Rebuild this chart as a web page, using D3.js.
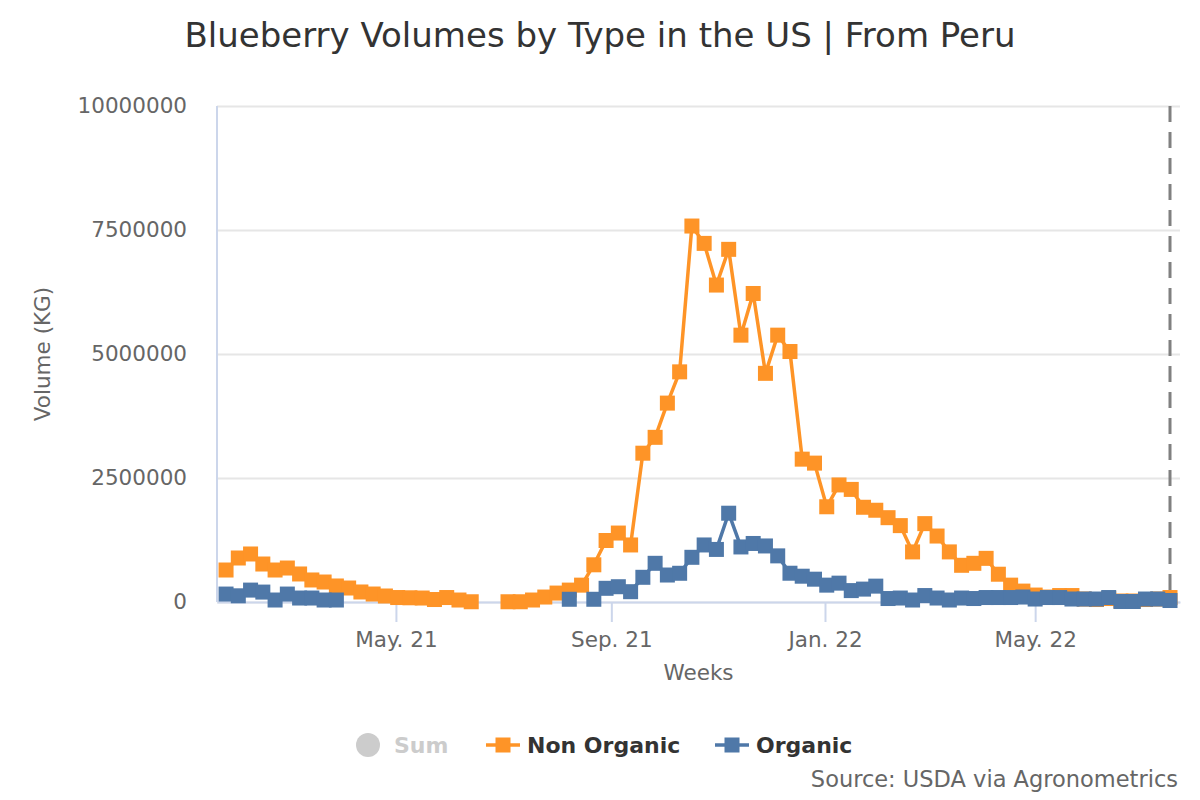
<!DOCTYPE html>
<html>
<head>
<meta charset="utf-8">
<script src="https://cdn.jsdelivr.net/npm/d3@7"></script>
<style>
    body { margin: 0; background: #fff; }
    text { font-family: "DejaVu Sans", Verdana, sans-serif; }
</style>
</head>
<body>
<svg id="main-svg"></svg>
<script>
// weekly dates (week ending)
const weeks = [
    "2021-01-24", "2021-01-31", "2021-02-07", "2021-02-14", "2021-02-21", "2021-02-28",
    "2021-03-07", "2021-03-14", "2021-03-21", "2021-03-28", "2021-04-04", "2021-04-11",
    "2021-04-18", "2021-04-25", "2021-05-02", "2021-05-09", "2021-05-16", "2021-05-23",
    "2021-05-30", "2021-06-06", "2021-06-13", "2021-06-20", "2021-06-27", "2021-07-04",
    "2021-07-11", "2021-07-18", "2021-07-25", "2021-08-01", "2021-08-08", "2021-08-15",
    "2021-08-22", "2021-08-29", "2021-09-05", "2021-09-12", "2021-09-19", "2021-09-26",
    "2021-10-03", "2021-10-10", "2021-10-17", "2021-10-24", "2021-10-31", "2021-11-07",
    "2021-11-14", "2021-11-21", "2021-11-28", "2021-12-05", "2021-12-12", "2021-12-19",
    "2021-12-26", "2022-01-02", "2022-01-09", "2022-01-16", "2022-01-23", "2022-01-30",
    "2022-02-06", "2022-02-13", "2022-02-20", "2022-02-27", "2022-03-06", "2022-03-13",
    "2022-03-20", "2022-03-27", "2022-04-03", "2022-04-10", "2022-04-17", "2022-04-24",
    "2022-05-01", "2022-05-08", "2022-05-15", "2022-05-22", "2022-05-29", "2022-06-05",
    "2022-06-12", "2022-06-19", "2022-06-26", "2022-07-03", "2022-07-10", "2022-07-17"
];

const nonOrganic = [
    645000, 887000, 968000, 766000, 645000, 685000, 565000, 444000, 403000, 323000,
    282000, 202000, 161000, 121000, 90000, 85000, 80000, 50000, 90000, 40000,
    5000, null, null, 5000, 5000, 40000, 100000, 180000, 240000, 340000,
    750000, 1240000, 1390000, 1150000, 3000000, 3320000, 4010000, 4640000, 7580000, 7230000,
    6390000, 7110000, 5380000, 6220000, 4610000, 5380000, 5050000, 2880000, 2800000, 1920000,
    2360000, 2270000, 1910000, 1850000, 1700000, 1540000, 1010000, 1580000, 1330000, 1010000,
    740000, 780000, 880000, 560000, 340000, 220000, 140000, 100000, 130000, 130000,
    60000, 50000, 70000, 20000, 20000, 50000, 60000, 90000
];

const organic = [
    160000, 125000, 240000, 200000, 40000, 160000, 80000, 80000, 40000, 40000,
    null, null, null, null, null, null, null, null, null, null,
    null, null, null, null, null, null, null, null, 55000, null,
    55000, 276000, 308000, 208000, 498000, 780000, 544000, 579000, 901000, 1150000,
    1060000, 1790000, 1110000, 1180000, 1130000, 930000, 580000, 520000, 460000, 340000,
    380000, 230000, 260000, 320000, 70000, 80000, 40000, 130000, 80000, 40000,
    80000, 70000, 90000, 90000, 90000, 100000, 60000, 90000, 90000, 60000,
    60000, 60000, 90000, 10000, 10000, 60000, 60000, 30000
];

const yTicks = [0, 2500000, 5000000, 7500000, 10000000];
const xTicks = ["2021-05-01", "2021-09-01", "2022-01-01", "2022-05-01"];
const markerLine = "2022-07-17";

const parseDate = d3.utcParse("%Y-%m-%d");
const ORANGE = "#fe9427";
const BLUE = "#4f78a8";

function drawChart() {
    const svg = d3.select("#main-svg").attr("width", 1200).attr("height", 800);
    const left = 217, right = 1180, top = 106, bottom = 602;

    const x = d3.scaleUtc()
        .domain([new Date(Date.UTC(2021, 0, 18, 20)), new Date(Date.UTC(2022, 6, 22, 17))])
        .range([left, right]);
    const y = d3.scaleLinear()
        .domain([0, 10000000])
        .range([bottom, top]);

    // title
    svg.append("text")
        .attr("x", 600).attr("y", 47)
        .attr("text-anchor", "middle")
        .attr("font-size", 34)
        .attr("fill", "#333333")
        .text("Blueberry Volumes by Type in the US | From Peru");

    // horizontal grid
    svg.append("g")
        .attr("transform", `translate(${left}, 0)`)
        .call(d3.axisLeft(y).tickValues(yTicks).tickSize(-(right - left)).tickFormat(""))
        .call(g => g.select(".domain").remove())
        .selectAll("line")
        .attr("stroke", "#e6e6e6")
        .attr("stroke-width", 2);

    // y labels
    svg.append("g")
        .attr("transform", `translate(${left}, 0)`)
        .call(d3.axisLeft(y).tickValues(yTicks).tickSize(0).tickPadding(30).tickFormat(d => d))
        .call(g => g.select(".domain").remove())
        .selectAll("text")
        .attr("font-family", "DejaVu Sans")
        .attr("font-size", 21.5)
        .attr("fill", "#666666");

    // y axis line
    svg.append("line")
        .attr("x1", left).attr("x2", left)
        .attr("y1", top).attr("y2", bottom)
        .attr("stroke", "#ccd6eb")
        .attr("stroke-width", 2);

    // x axis
    const xAxis = d3.axisBottom(x)
        .tickValues(xTicks.map(parseDate))
        .tickSize(20)
        .tickSizeOuter(0)
        .tickPadding(10)
        .tickFormat(d3.utcFormat("%b. %y"));
    const gx = svg.append("g")
        .attr("transform", `translate(0, ${bottom})`)
        .call(xAxis);
    gx.select(".domain").attr("stroke", "#ccd6eb").attr("stroke-width", 2);
    gx.selectAll("line").attr("stroke", "#ccd6eb").attr("stroke-width", 2);
    gx.selectAll("text")
        .attr("font-family", "DejaVu Sans")
        .attr("font-size", 21.5)
        .attr("fill", "#666666");

    // axis titles
    svg.append("text")
        .attr("x", (left + right) / 2).attr("y", 680)
        .attr("text-anchor", "middle")
        .attr("font-size", 21.5)
        .attr("fill", "#666666")
        .text("Weeks");
    svg.append("text")
        .attr("transform", "translate(50, 354) rotate(-90)")
        .attr("text-anchor", "middle")
        .attr("font-size", 21.5)
        .attr("fill", "#666666")
        .text("Volume (KG)");

    // dashed plot line
    svg.append("line")
        .attr("x1", x(parseDate(markerLine))).attr("x2", x(parseDate(markerLine)))
        .attr("y1", top).attr("y2", bottom)
        .attr("stroke", "#808080")
        .attr("stroke-width", 3)
        .attr("stroke-dasharray", "16,10");

    const series = [
        { name: "Non Organic", values: nonOrganic, color: ORANGE },
        { name: "Organic", values: organic, color: BLUE }
    ];

    const line = d3.line()
        .defined(d => d.v != null)
        .x(d => x(d.date))
        .y(d => y(d.v));

    series.forEach(s => {
        const pts = weeks.map((w, i) => ({ date: parseDate(w), v: s.values[i] }));
        const g = svg.append("g");
        g.append("path")
            .datum(pts)
            .attr("d", line)
            .attr("fill", "none")
            .attr("stroke", s.color)
            .attr("stroke-width", 3.5)
            .attr("stroke-linejoin", "round");
        g.selectAll("rect")
            .data(pts.filter(d => d.v != null))
            .join("rect")
            .attr("x", d => x(d.date) - 7.5)
            .attr("y", d => y(d.v) - 7.5)
            .attr("width", 15)
            .attr("height", 15)
            .attr("fill", s.color);
    });

    // legend
    const legend = svg.append("g").attr("font-weight", "bold").attr("font-size", 22);
    legend.append("circle")
        .attr("cx", 368).attr("cy", 745).attr("r", 12)
        .attr("fill", "#cccccc");
    legend.append("text")
        .attr("x", 394).attr("y", 753)
        .attr("fill", "#cccccc")
        .text("Sum");

    const legendItems = [
        { name: "Non Organic", color: ORANGE, x: 486 },
        { name: "Organic", color: BLUE, x: 715 }
    ];
    legendItems.forEach(item => {
        legend.append("line")
            .attr("x1", item.x).attr("x2", item.x + 34)
            .attr("y1", 745).attr("y2", 745)
            .attr("stroke", item.color)
            .attr("stroke-width", 3.5);
        legend.append("rect")
            .attr("x", item.x + 17 - 7.5).attr("y", 745 - 7.5)
            .attr("width", 15).attr("height", 15)
            .attr("fill", item.color);
        legend.append("text")
            .attr("x", item.x + 41).attr("y", 753)
            .attr("fill", "#333333")
            .text(item.name);
    });

    // credits
    svg.append("text")
        .attr("x", 1178).attr("y", 787)
        .attr("text-anchor", "end")
        .attr("font-size", 22.5)
        .attr("fill", "#666666")
        .text("Source: USDA via Agronometrics");
}

drawChart();
</script>
</body>
</html>
